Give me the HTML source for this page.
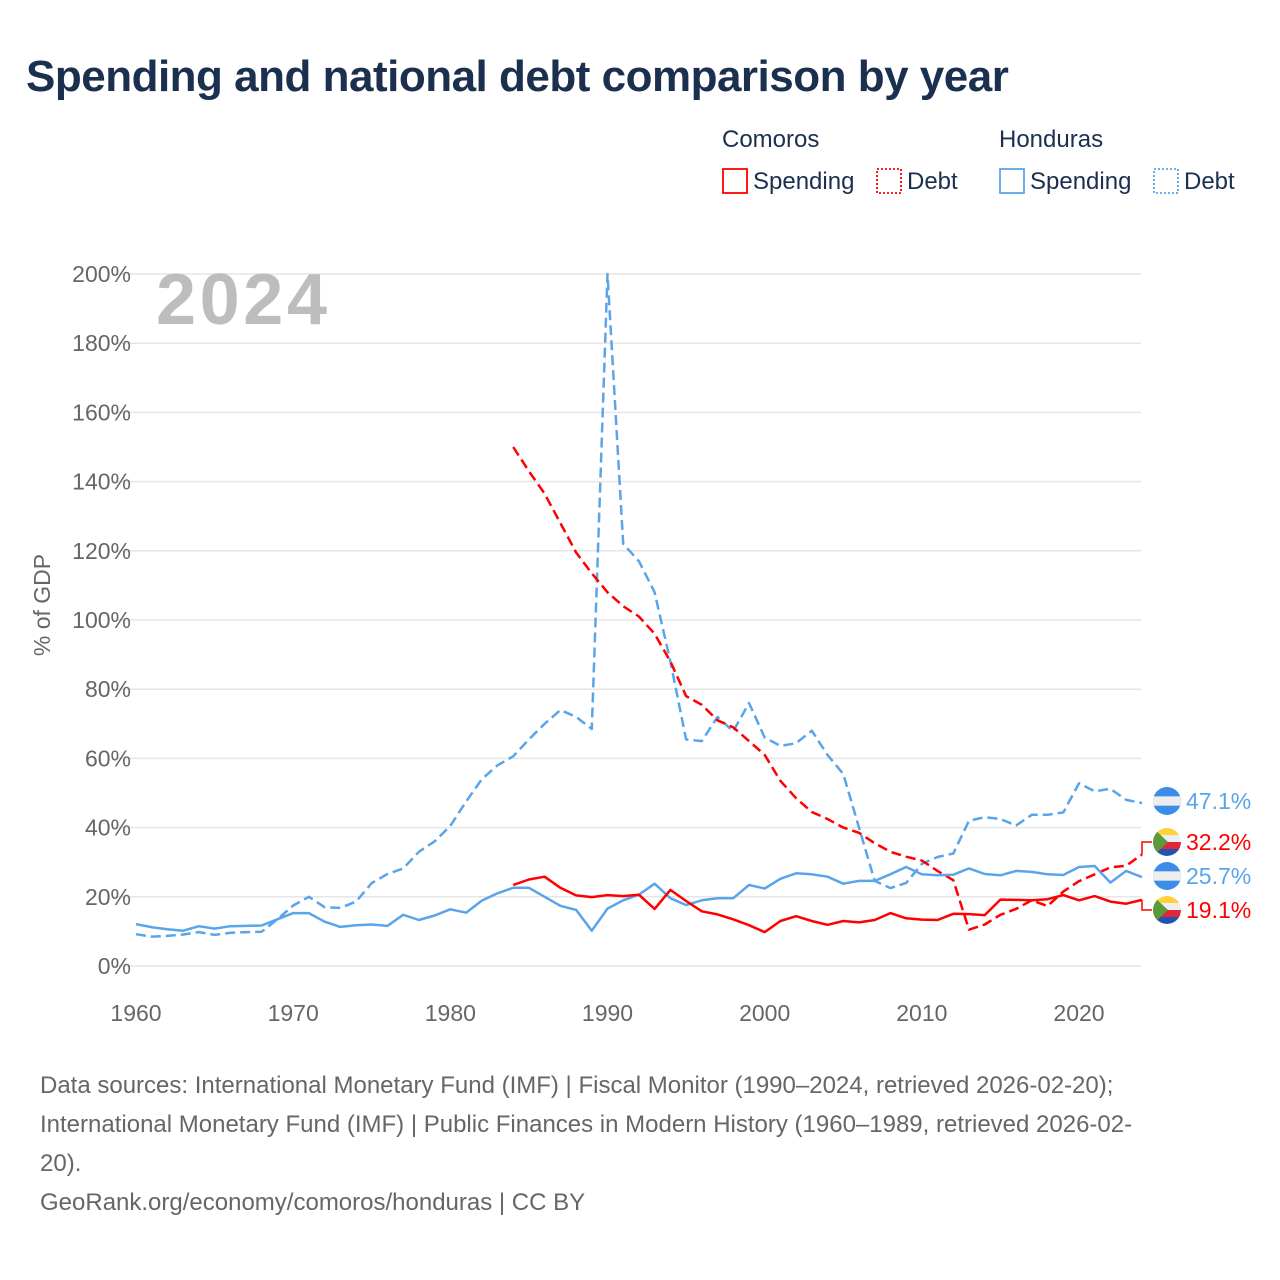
<!DOCTYPE html>
<html><head><meta charset="utf-8"><style>
body{margin:0;background:#fff;font-family:"Liberation Sans",sans-serif}
#wrap{position:relative;width:1280px;height:1280px;overflow:hidden}
h1{position:absolute;left:26px;top:52px;margin:0;font-size:44px;font-weight:bold;color:#1b2f4e;letter-spacing:-0.5px}
.foot{position:absolute;left:40px;top:1066px;width:1240px;font-size:24px;line-height:39px;color:#666;white-space:nowrap}
</style></head><body>
<div id="wrap">
<h1>Spending and national debt comparison by year</h1>
<svg id="chart" width="1280" height="1280" style="position:absolute;left:0;top:0"></svg>
<div class="foot">Data sources: International Monetary Fund (IMF) | Fiscal Monitor (1990–2024, retrieved 2026-02-20);<br>International Monetary Fund (IMF) | Public Finances in Modern History (1960–1989, retrieved 2026-02-<br>20).<br>GeoRank.org/economy/comoros/honduras | CC BY</div>
</div>
<script>
const yearsH = [];
for (let y = 1960; y <= 2024; y++) yearsH.push(y);
const yearsC = [];
for (let y = 1984; y <= 2024; y++) yearsC.push(y);
const hondurasSpending = [12.1,11.2,10.6,10.2,11.5,10.8,11.5,11.6,11.7,13.5,15.3,15.3,12.8,11.3,11.8,12,11.6,14.8,13.3,14.6,16.4,15.4,18.9,21,22.6,22.6,20,17.4,16.2,10.2,16.6,19,20.6,23.8,19.6,17.6,19,19.6,19.6,23.4,22.4,25.2,26.8,26.5,25.8,23.8,24.6,24.6,26.5,28.6,26.5,26.2,26.4,28.2,26.6,26.2,27.5,27.2,26.5,26.3,28.6,28.9,24.1,27.5,25.7];
const hondurasDebt = [9.2,8.5,8.7,9.1,9.8,9.0,9.6,9.8,9.9,13.5,17.5,20,17,16.8,18.6,24,26.6,28.2,33,36,40.5,47.5,54,58,60.6,65.5,70,74,72,68.5,200,122,117,108,88,65.5,65,72,67.8,76,66,63.6,64.4,68,61,55.5,40,24.6,22.5,24,29.5,31.5,32.5,42,43,42.5,40.6,43.7,43.7,44.4,52.8,50.5,51.2,48,47.1];
const comorosSpending = [23.4,25,25.8,22.6,20.4,19.9,20.5,20.2,20.6,16.5,22,18.8,15.8,14.9,13.5,11.8,9.8,13,14.4,13,11.9,13,12.6,13.3,15.3,13.8,13.4,13.3,15.1,15,14.7,19.2,19.1,19,19.3,20.5,19,20.2,18.6,18,19.1];
const comorosDebt = [150,143,136.5,128,119.5,113.5,108,104,101,96,88,78,75.5,71,69,65,61,53.5,48.5,44.5,42.5,40,38.5,35.5,33,31.6,30.5,27.5,24.8,10.5,12,14.8,16.5,19,17.3,21.5,24.5,26.5,28.5,29,32.2];
const yTicks = [0,20,40,60,80,100,120,140,160,180,200];
const xTicks = [1960,1970,1980,1990,2000,2010,2020];

const NS = "http://www.w3.org/2000/svg";
const svg = document.getElementById('chart');
const X0 = 136, X1 = 1079, Y0 = 966, Y200 = 274;
const xs = y => X0 + (y - 1960) * (X1 - X0) / 60;
const ys = v => Y0 - v * (Y0 - Y200) / 200;
function mk(tag, attrs, parent) {
  const e = document.createElementNS(NS, tag);
  for (const k in attrs) e.setAttribute(k, attrs[k]);
  (parent || svg).appendChild(e);
  return e;
}
const grid = mk('g', {});


yTicks.forEach(v => {
  const l = mk('line', {x1: 112, x2: 1141, y1: ys(v), y2: ys(v), stroke: '#e6e6e6', 'stroke-width': 1.5}, grid);
  
  
  const t = mk('text', {x: 131, y: ys(v) + 8, 'text-anchor': 'end', 'font-size': 23, fill: '#666'});
  t.textContent = v + '%';
  
  
});
xTicks.forEach(y => {
  const t = mk('text', {x: xs(y), y: 1021, 'text-anchor': 'middle', 'font-size': 23, fill: '#666'});
  t.textContent = y;
  
  
});
const yt = mk('text', {x: 50, y: 605, transform: 'rotate(-90 50 605)', 'text-anchor': 'middle', 'font-size': 23, fill: '#666'});
yt.textContent = '% of GDP';


const yr = mk('text', {x: 156, y: 324, 'font-size': 72, 'font-weight': 'bold', fill: '#bdbdbd', textLength: 171});
yr.textContent = '2024';



function line(years, vals, color, dash, name) {
  const d = vals.map((v, i) => (i ? 'L' : 'M') + xs(years[i]).toFixed(1) + ',' + ys(v).toFixed(1)).join('');
  const p = mk('path', {d: d, fill: 'none', stroke: color, 'stroke-width': 2.5, 'stroke-dasharray': dash || 'none', 'stroke-linejoin': 'round'});
  
  
}
const BLUE = '#5aa5ea', RED = '#ff0000';
line(yearsH, hondurasDebt, BLUE, '10,5', 'honduras-debt-line');
line(yearsC, comorosDebt, RED, '10,5', 'comoros-debt-line');
line(yearsH, hondurasSpending, BLUE, null, 'honduras-spending-line');
line(yearsC, comorosSpending, RED, null, 'comoros-spending-line');

const ends = [
  {v: hondurasDebt[hondurasDebt.length-1], ly: 801, c: BLUE, f: 'hn', n: 'honduras-debt-end-label'},
  {v: comorosDebt[comorosDebt.length-1], ly: 842, c: RED, f: 'km', n: 'comoros-debt-end-label'},
  {v: hondurasSpending[hondurasSpending.length-1], ly: 876, c: BLUE, f: 'hn', n: 'honduras-spending-end-label'},
  {v: comorosSpending[comorosSpending.length-1], ly: 910, c: RED, f: 'km', n: 'comoros-spending-end-label'}
];
ends.forEach(e => {
  const g = mk('g', {});
  
  
  if (Math.abs(ys(e.v) - e.ly) > 3) {
    mk('path', {d: `M1142,${ys(e.v)}H1142V${e.ly}H1152`, stroke: e.c, fill: 'none', 'stroke-width': 1.5}, g);
  }
  const cx = 1167, cy = e.ly, r = 14;
  const cid = 'c' + e.n;
  const cp = mk('clipPath', {id: cid}, g);
  mk('circle', {cx: cx, cy: cy, r: r}, cp);
  const fg = mk('g', {'clip-path': `url(#${cid})`}, g);
  if (e.f === 'hn') {
    mk('rect', {x: cx-r, y: cy-r, width: 2*r, height: 2*r, fill: '#3d8ce6'}, fg);
    mk('rect', {x: cx-r, y: cy-r/3, width: 2*r, height: 2*r/3, fill: '#eee'}, fg);
  } else {
    const h = 2*r/4;
    ['#ffd13a','#eee','#e0263a','#2353b0'].forEach((c, i) => mk('rect', {x: cx-r, y: cy-r+i*h, width: 2*r, height: h, fill: c}, fg));
    mk('path', {d: `M${cx-r},${cy-r}L${cx+1},${cy}L${cx-r},${cy+r}Z`, fill: '#5b9a3a'}, fg);
  }
  const t = mk('text', {x: 1186, y: e.ly + 8, 'font-size': 23, fill: e.c}, g);
  t.textContent = e.v.toFixed(1) + '%';
});

const lg = mk('g', {});


[['Comoros', 722], ['Honduras', 999]].forEach(a => {
  const t = mk('text', {x: a[1], y: 147, 'font-size': 24, fill: '#1b2f4e'}, lg);
  t.textContent = a[0];
  
  
});
[[722, RED, false, 'Spending'], [876, RED, true, 'Debt'], [999, BLUE, false, 'Spending'], [1153, BLUE, true, 'Debt']].forEach(a => {
  const g = mk('g', {}, lg);
  
  
  mk('rect', {x: a[0] + 1, y: 169, width: 24, height: 24, fill: 'none', stroke: a[1], 'stroke-width': 1.8, 'stroke-dasharray': a[2] ? '2,2' : 'none'}, g);
  const t = mk('text', {x: a[0] + 31, y: 189, 'font-size': 24, fill: '#1b2f4e'}, g);
  t.textContent = a[3];
});
</script>
</body></html>
